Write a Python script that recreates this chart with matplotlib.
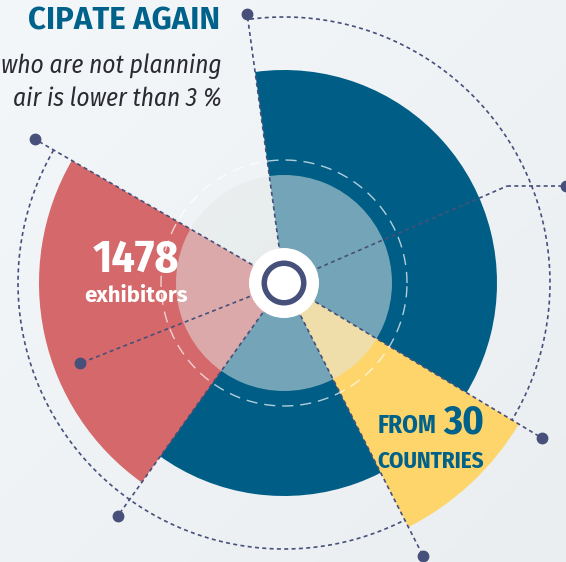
import numpy as np
import matplotlib
matplotlib.use("Agg")
import matplotlib.pyplot as plt

W, H = 566, 562
CX, CY = 284, 283          # centre of the radial chart, image pixels (y down)
R_AX = 320                 # radial extent of the polar axes in pixels

# ---- data -------------------------------------------------------------
# wedges: angles in degrees, counter-clockwise from east; radius in px
segment_names = ["returning", "exhibitors", "countries"]
segment_start = [-126.0, 150.0, -63.0]
segment_end = [97.8, 234.5, -31.0]
segment_radius = [213, 245, 274]

# leader lines along the wedge edges, ending in a dot
leader_angle = [97.8, 150.0, 234.5, -63.0, -31.0]
leader_radius = [272, 288, 286, 306, 301]

# line across the centre (left end with dot, right end bends to the edge)
cross_angle = [201.5, 23.5]
cross_radius = [219, 243]

inner_disk_r = 108
ring_r = 123
outer_ring_r = 266

title = "CIPATE AGAIN"
subtitle = ["who are not planning", "air is lower than 3 %"]
big_number = "1478"
big_label = "exhibitors"
countries_number = "30"

# ---- style ------------------------------------------------------------
seg_colors = ["#005e86", "#d4686a", "#fed56b"]
navy = "#46507a"
blue_text = "#00628a"
cond = ["Fira Sans Condensed", "DejaVu Sans"]
wide = ["Fira Sans", "DejaVu Sans"]

fig = plt.figure(figsize=(W / 100, H / 100), dpi=100)
fig.patch.set_facecolor("#eef2f5")

# background gradient
bg = fig.add_axes([0, 0, 1, 1], zorder=0)
gx, gy = np.meshgrid(np.linspace(0, 1, 200), np.linspace(0, 1, 200))
g = (gx + gy) / 2
c0 = np.array([0xf4, 0xf7, 0xfa]) / 255
c1 = np.array([0xea, 0xee, 0xf0]) / 255
img = c0[None, None, :] * (1 - g[..., None]) + c1[None, None, :] * g[..., None]
bg.imshow(img, extent=[0, W, H, 0], aspect="auto")
bg.set_xlim(0, W)
bg.set_ylim(H, 0)
bg.axis("off")

# polar axes, 1 radial unit = 1 pixel
ax = fig.add_axes([(CX - R_AX) / W, (H - CY - R_AX) / H, 2 * R_AX / W, 2 * R_AX / H],
                  projection="polar", zorder=1)
ax.set_theta_zero_location("E")
ax.set_ylim(0, R_AX)
ax.axis("off")

dash_kw = dict(color=navy, lw=1.2, dashes=(2.4, 2.0))

# big dotted ring (open over the empty gap)
th = np.radians(np.linspace(segment_start[1], segment_end[0] + 360, 600))
ax.plot(th, np.full_like(th, outer_ring_r), zorder=2, **dash_kw)

for s, e, r, c in zip(segment_start, segment_end, segment_radius, seg_colors):
    ax.bar(np.radians((s + e) / 2), r, width=np.radians(e - s), bottom=0,
           color=c, linewidth=0, zorder=3)

# translucent inner disk
ax.bar(0, inner_disk_r, width=2 * np.pi, bottom=0, color="#e3e8e7",
       alpha=0.51, linewidth=0, zorder=4)

# white dashed ring
th = np.linspace(0, 2 * np.pi, 400)
ax.plot(th, np.full_like(th, ring_r), color="white", alpha=0.7, lw=1.0,
        dashes=(8, 5), zorder=4)

# leader lines + dots
for a, r in zip(leader_angle, leader_radius):
    ax.plot([np.radians(a)] * 2, [0, r], zorder=5, **dash_kw)
    ax.plot(np.radians(a), r, "o", color=navy, ms=7.5, zorder=6)

for a, r in zip(cross_angle, cross_radius):
    ax.plot([np.radians(a)] * 2, [0, r], zorder=5, **dash_kw)
ax.plot(np.radians(cross_angle[0]), cross_radius[0], "o", color=navy, ms=7.5, zorder=6)

# centre button
ax.bar(0, 35, width=2 * np.pi, bottom=0, color="white", linewidth=0, zorder=7)
ax.bar(0, 5.5, width=2 * np.pi, bottom=17, color=navy, linewidth=0, zorder=8)

# ---- overlay for text and the bent leader ----------------------------
ov = fig.add_axes([0, 0, 1, 1], zorder=2)
ov.set_xlim(0, W)
ov.set_ylim(H, 0)
ov.axis("off")
ov.patch.set_alpha(0)

ex = CX + cross_radius[1] * np.cos(np.radians(cross_angle[1]))
ey = CY - cross_radius[1] * np.sin(np.radians(cross_angle[1]))
ov.plot([ex, W], [ey, ey], **dash_kw)
ov.plot(W, ey, "o", color=navy, ms=7.5, clip_on=False)

ov.text(220, 30, title, ha="right", va="baseline", fontsize=22.5,
        fontweight="bold", family=wide, color=blue_text)
for i, line in enumerate(subtitle):
    ov.text(222, 73 + 34 * i, line, ha="right", va="baseline", fontsize=18.2,
            style="italic", family=cond, color="#2a2a30")

ov.text(136, 272, big_number, ha="center", va="baseline", fontsize=33,
        fontweight="bold", family=cond, color="white")
ov.text(136, 302, big_label, ha="center", va="baseline", fontsize=16,
        fontweight="bold", family=wide, color="white")

ov.text(378, 433, "FROM", ha="left", va="baseline", fontsize=18,
        fontweight="bold", family=cond, color=blue_text)
ov.text(484, 433, countries_number, ha="right", va="baseline", fontsize=29,
        fontweight="bold", family=cond, color=blue_text)
ov.text(431, 468, "COUNTRIES", ha="center", va="baseline", fontsize=16.5,
        fontweight="bold", family=cond, color=blue_text)

fig.savefig("out.png", dpi=100, facecolor=fig.get_facecolor())
